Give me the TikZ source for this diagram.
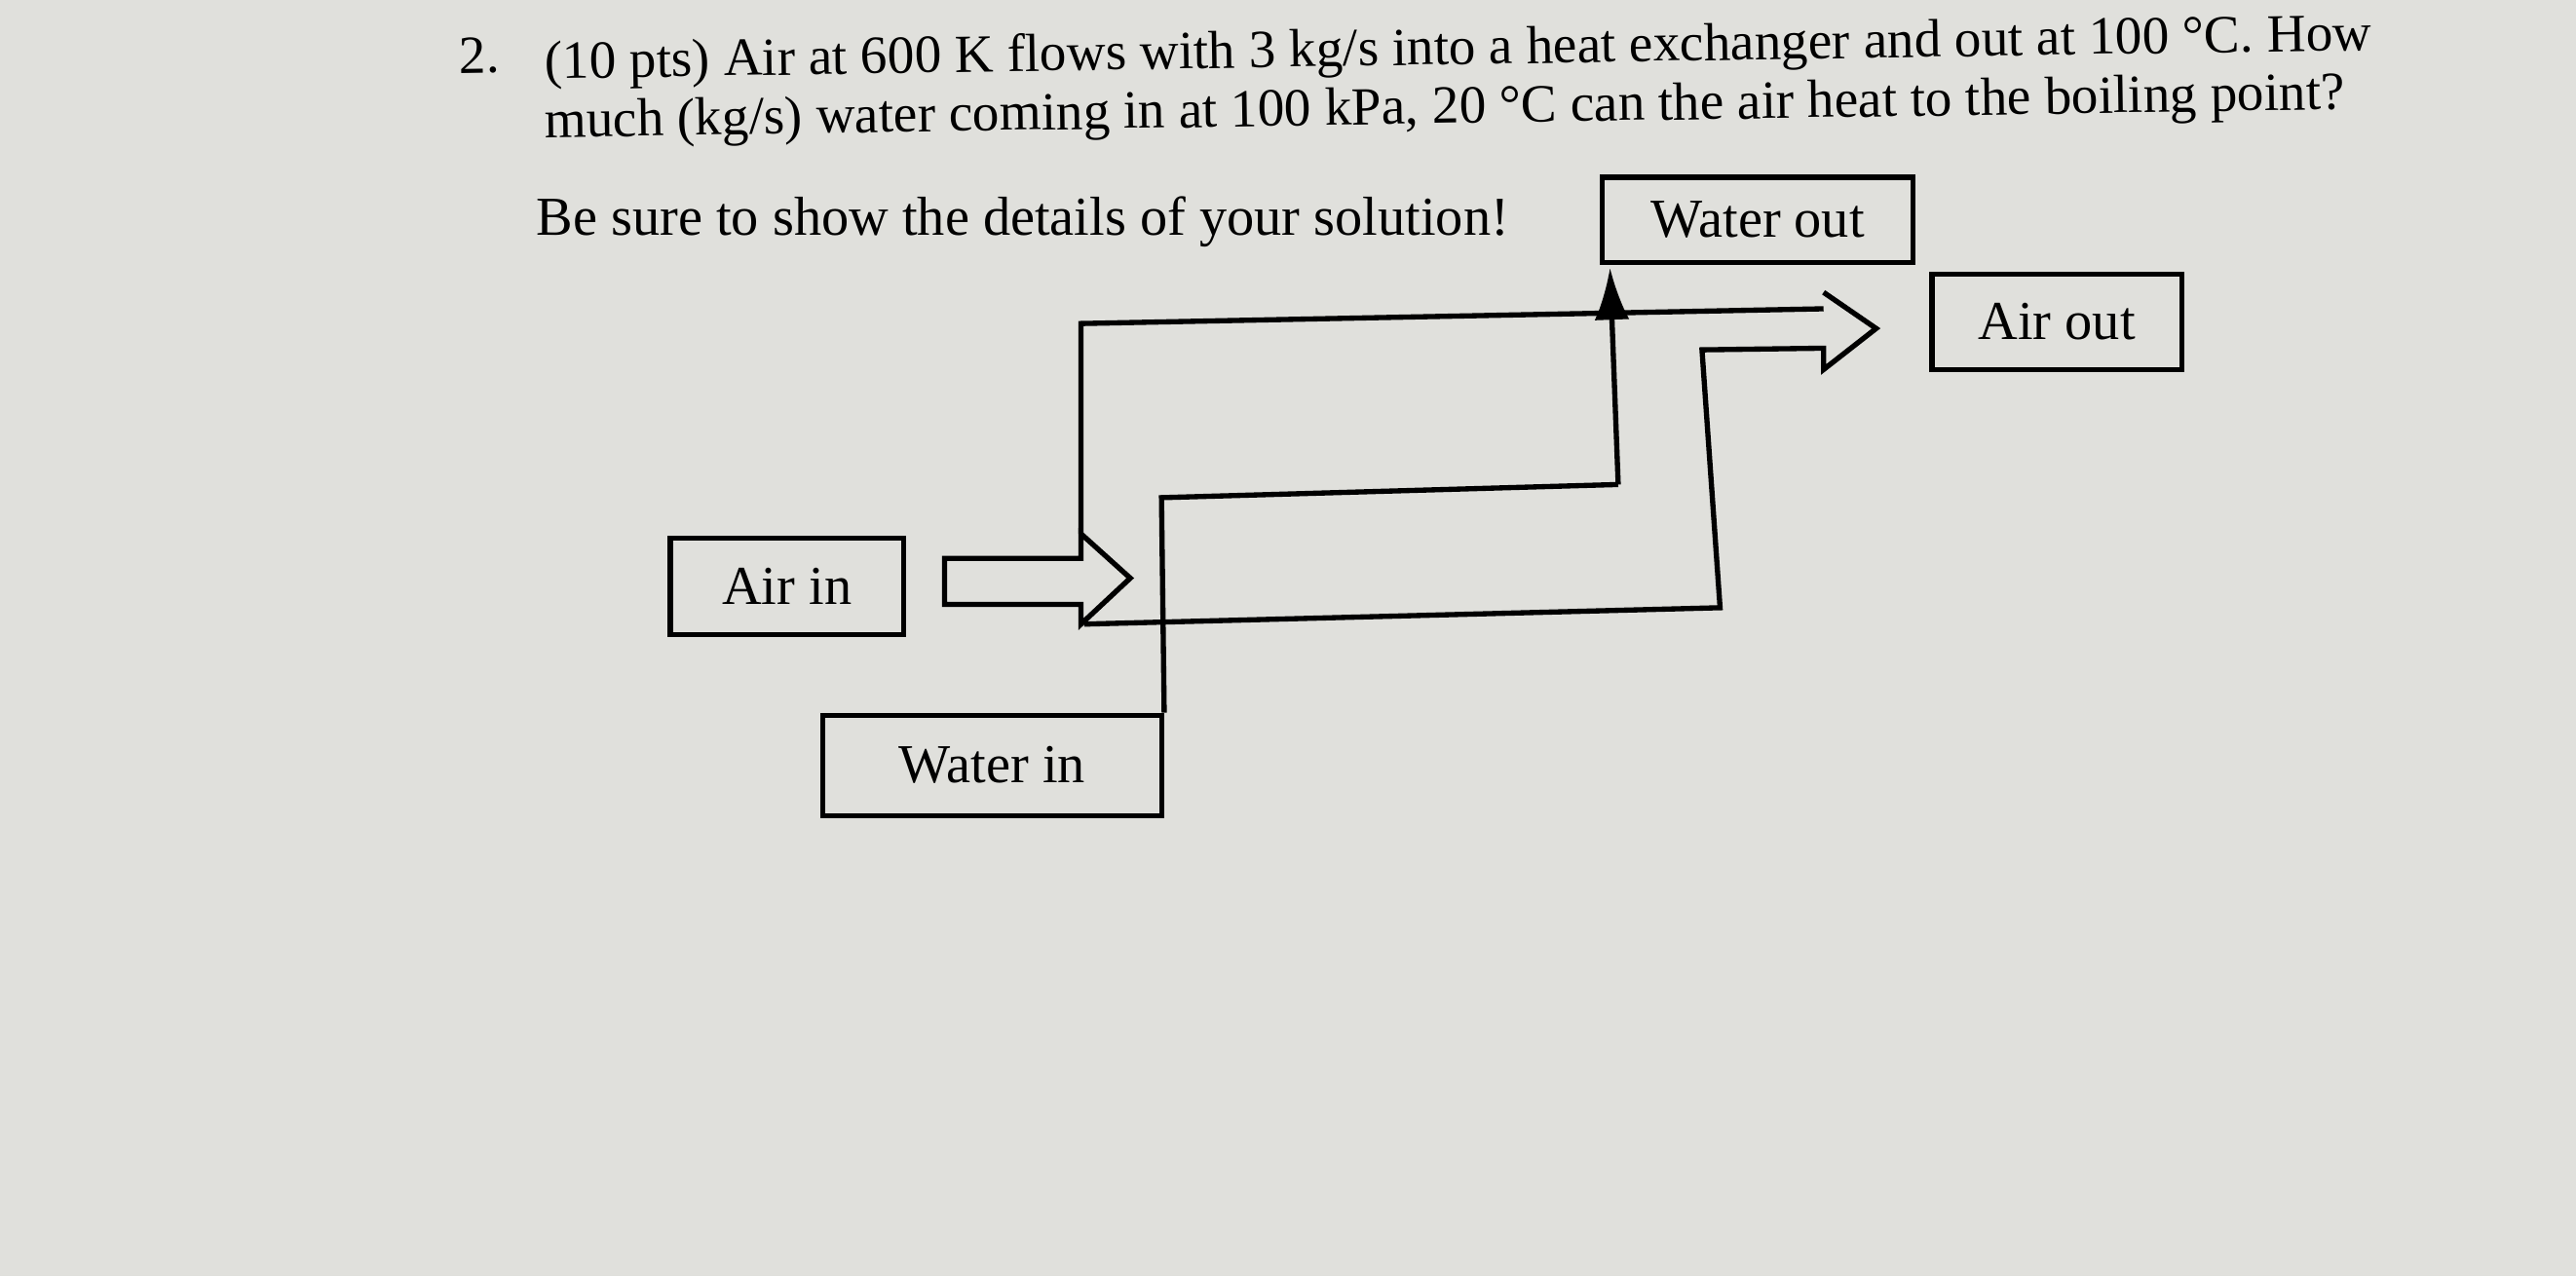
\documentclass[tikz,border=0pt]{standalone}
\usepackage{fontspec}
\setmainfont{Liberation Serif}
\usetikzlibrary{arrows.meta}
\definecolor{paper}{RGB}{224,224,220}
\begin{document}
\begin{tikzpicture}[x=0.01cm,y=-0.01cm,line width=0.9pt,
  lbl/.style={draw,line width=0.9pt,inner sep=0pt,font=\fontsize{9.5}{11}\selectfont},
  txt/.style={anchor=west,inner sep=0pt,font=\fontsize{9.5}{11}\selectfont},
  ttl/.style={anchor=west,inner sep=0pt,rotate=0.9,font=\fontsize{9.3}{11}\selectfont}]
\fill[paper] (0,0) rectangle (1568,777);
\useasboundingbox (0,0) rectangle (1568,777);
\node[ttl] (num) at (278,34) {2.};
\node[ttl] (l1) at (330,40) {(10 pts) Air at 600 K flows with 3 kg/s into a heat exchanger and out at 100 °C. How};
\node[ttl] (l2) at (330,76) {much (kg/s) water coming in at 100 kPa, 20 °C can the air heat to the boiling point?};
\node[txt] (be) at (325,135) {Be sure to show the details of your solution!};
\node[lbl,minimum width=1.89cm,minimum height=0.52cm] (wout) at (1070,134) {Water out};
\node[lbl,minimum width=1.52cm,minimum height=0.58cm] (aout) at (1252,196) {Air out};
\node[lbl,minimum width=1.42cm,minimum height=0.59cm] (ain) at (479,357) {Air in};
\node[lbl,minimum width=2.06cm,minimum height=0.61cm] (win) at (604,466) {Water in};
% air channel
\draw (658,325) -- (658,197) -- (1110,188);
\draw (1110,178) -- (1142,200) -- (1110,225) -- (1110,212) -- (1036,213) -- (1047,370) -- (660,380);
\draw (575,340) -- (658,340) -- (658,325) -- (688,352) -- (658,380) -- (658,368) -- (575,368) -- cycle;
% water channel
\draw (win.north east) -- (707,303) -- (985,295);
\draw[-{Latex[length=9pt,width=6pt]}] (985,295) -- (980,163);
\end{tikzpicture}
\end{document}
